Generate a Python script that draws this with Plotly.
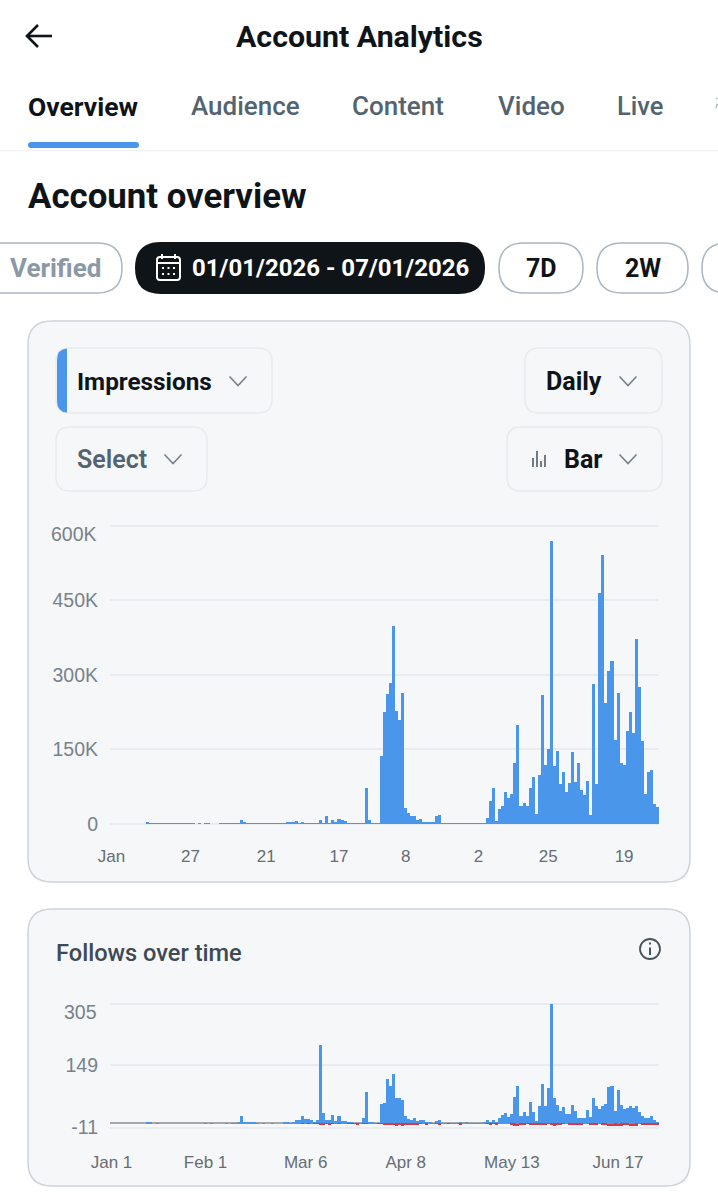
import pandas as pd
import plotly.graph_objects as go

W, H = 718, 1200

# Daily series, Jan 1 to Jun 30 2026
days = pd.date_range("2026-01-01", "2026-06-30", freq="D").strftime("%Y-%m-%d").tolist()

impressions_k = [
    0, 0, 0, 0, 0, 0, 0, 0, 0, 0, 0, 0, 5, 3, 2, 2, 2, 2, 2, 2,
    2, 2, 2, 2, 1.5, 1.5, 1, 1, 0, 1, 0, 1, 1, 0, 0, 0, 1, 1, 1, 1,
    1, 1.5, 3, 8, 4, 2, 1.5, 1, 1, 1, 1, 1, 1, 1, 1, 1, 1, 1.5, 4, 4,
    4, 6, 3, 4, 3, 2, 2, 1.5, 2, 9, 2, 17, 3, 8, 4, 11, 8, 6, 3, 2,
    1.5, 1.5, 1.5, 2, 73, 8, 3, 2, 2, 137, 226, 263, 285, 399, 228, 210, 264, 33, 23, 17,
    17, 9, 10, 5, 5, 5, 5, 16, 19, 2.5, 1.5, 1.5, 1.5, 1.5, 1.5, 2.5, 1.5, 2, 1.5, 1.5,
    1.5, 1.5, 2, 3, 13, 47, 73, 7, 31, 37, 65, 53, 60, 123, 200, 36, 42, 36, 74, 95,
    21, 100, 260, 119, 152, 569, 117, 148, 81, 105, 65, 84, 146, 86, 123, 68, 58, 88, 19, 283,
    82, 466, 542, 243, 309, 328, 169, 265, 124, 119, 188, 225, 184, 373, 277, 167, 60, 105, 110, 41,
    34,
]
impressions = [v * 1000 for v in impressions_k]

follows_gained = [
    0, 0, 0, 0, 0, 0, 0, 0, 0, 0, 0, 0, 2, 2, 0, 1, 0, 0, 0, 0,
    0, 0, 0, 0, 0, 0, 0, 0, 0, 0, 0, 1, 0, 1, 0, 0, 0, 0, 1, 0,
    1, 1, 2, 20, 5, 4, 5, 4, 1, 0, 1, 0, 0, 1, 0, 0, 0, 2, 2, 1,
    3, 8, 8, 19, 12, 11, 10, 4, 9, 201, 27, 10, 8, 22, 6, 19, 7, 6, 5, 2,
    1, 1, 1, 13, 81, 5, 3, 1, 0, 49, 53, 113, 95, 127, 65, 65, 61, 20, 12, 9,
    14, 7, 9, 8, 3, 5, 1, 6, 10, 1, 1, 1, 1, 1, 1, 4, 1, 3, 1, 1,
    1, 1, 1, 2, 8, 3, 10, 2, 13, 23, 27, 17, 24, 68, 95, 19, 29, 20, 56, 29,
    7, 45, 101, 44, 90, 306, 64, 47, 32, 42, 25, 25, 48, 31, 14, 13, 13, 34, 17, 65,
    44, 36, 44, 49, 93, 95, 31, 85, 48, 37, 41, 46, 40, 46, 30, 19, 14, 14, 20, 8,
    5,
]

follows_lost = [
    0, 0, 0, 0, 0, 0, 0, 0, 0, 0, 0, 0, 0, 0, 0, 0, 0, 0, 0, 0,
    0, 0, 0, 0, 0, 0, 0, 0, 0, 0, 0, 0, 0, 0, 0, 0, 0, 0, 0, 0,
    0, 0, 0, 0, 0, 0, 0, 0, 0, 0, 0, 0, 0, 0, 0, 0, 0, 0, 0, 0,
    0, 0, 0, -1, 0, -1, 0, -1, -1, -3, -3, -1, -2, -1, 0, -1, 0, 0, -1, -1,
    -1, -2, 0, -1, -1, 0, 0, 0, -1, -1, -2, -3, -3, -4, -5, -3, -5, -2, -3, -2,
    -2, -2, -1, 0, -2, 0, 0, -1, -2, 0, 0, -1, 0, 0, 0, -4, 0, 0, 0, 0,
    0, 0, 0, 0, -1, -2, -1, -2, 0, 0, 0, 0, -2, -5, -6, -4, -3, -1, -2, -2,
    -2, -3, -2, -4, -1, -4, -5, -4, -2, -1, 0, -4, -3, -2, -3, -2, 0, 0, -2, -3,
    -2, 0, -2, -3, -6, -7, -5, -6, -5, -4, -4, -6, -7, -5, 0, -2, -3, -2, -3, -2,
    -3,
]

impression_ticks = ["2026-01-01", "2026-01-27", "2026-02-21", "2026-03-17", "2026-04-08", "2026-05-02", "2026-05-25", "2026-06-19"]
impression_tick_text = ["Jan", "27", "21", "17", "8", "2", "25", "19"]
impression_y_ticks = [0, 150000, 300000, 450000]
impression_y_text = ["0", "150K", "300K", "450K"]

follow_ticks = ["2026-01-01", "2026-02-01", "2026-03-06", "2026-04-08", "2026-05-13", "2026-06-17"]
follow_tick_text = ["Jan 1", "Feb 1", "Mar 6", "Apr 8", "May 13", "Jun 17"]
follow_y_ticks = [-11, 149]
follow_y_text = ["-11", "149"]

BLUE = "#4a96ea"
RED = "#e2343c"
INK = "#0f1419"
SLATE = "#536471"
UI_FONT = "Roboto"
AXIS_FONT = "Liberation Sans"
X_RANGE = ["2025-12-31 12:00", "2026-06-30 12:00"]


def px(x):
    return x / W


def py(y):
    return 1 - y / H


def rounded(x0, y0, x1, y1, r):
    """SVG path of a rounded rectangle, in paper coordinates."""
    p = lambda x, y: f"{px(x):.5f},{py(y):.5f}"
    return (
        f"M{p(x0 + r, y0)} L{p(x1 - r, y0)} Q{p(x1, y0)} {p(x1, y0 + r)} "
        f"L{p(x1, y1 - r)} Q{p(x1, y1)} {p(x1 - r, y1)} L{p(x0 + r, y1)} "
        f"Q{p(x0, y1)} {p(x0, y1 - r)} L{p(x0, y0 + r)} Q{p(x0, y0)} {p(x0 + r, y0)} Z"
    )


shapes = []
annotations = []


def box(x0, y0, x1, y1, r, fill="rgba(0,0,0,0)", line="rgba(0,0,0,0)", lw=1.5):
    shapes.append(dict(type="path", xref="paper", yref="paper", path=rounded(x0, y0, x1, y1, r),
                       fillcolor=fill, line=dict(color=line, width=lw), layer="below"))


def stroke(points, color=INK, lw=2.0):
    d = "M" + " L".join(f"{px(x):.5f},{py(y):.5f}" for x, y in points)
    shapes.append(dict(type="path", xref="paper", yref="paper", path=d,
                       line=dict(color=color, width=lw), layer="above"))


def chevron(cx, cy, color="#76818b"):
    stroke([(cx - 8.5, cy - 4.5), (cx, cy + 4.5), (cx + 8.5, cy - 4.5)], color, 1.6)


def text(x, y, s, size, color=INK, weight=400, anchor="left", font=UI_FONT):
    annotations.append(dict(x=px(x), y=py(y), xref="paper", yref="paper", text=s, showarrow=False,
                            xanchor=anchor, yanchor="middle", borderpad=0, borderwidth=0,
                            font=dict(family=font, size=size, color=color, weight=weight)))


# Header
stroke([(27, 36), (52, 36)], INK, 2.6)
stroke([(38, 25), (27, 36), (38, 47)], INK, 2.6)
text(359, 36, "Account Analytics", 30.3, INK, 700, "center")

# Tabs
text(28, 106, "Overview", 26.5, INK, 700)
text(191, 106, "Audience", 26, SLATE, 500)
text(352, 106, "Content", 26, SLATE, 500)
text(498, 106, "Video", 26, SLATE, 500)
text(617, 106, "Live", 25.5, SLATE, 500)
# Sliver of the next tab where the strip runs off the screen
stroke([(716, 99), (717.5, 98)], "#aeb7bf", 1.5)
stroke([(716, 108), (717.5, 104)], "#aeb7bf", 1.5)
box(28, 142, 139, 148, 3, fill=BLUE)
shapes.append(dict(type="line", xref="paper", yref="paper", x0=0, x1=1, y0=py(150.5), y1=py(150.5),
                   line=dict(color="#eff1f3", width=1.5), layer="below"))

text(28, 196, "Account overview", 34.8, INK, 700)

# Filter pills
box(-30, 243, 122, 293, 25, line="#aab6c1")
text(10, 268, "Verified", 26, "#8b98a5", 700)
box(135, 242, 485, 294, 26, fill=INK)
text(192, 268, "01/01/2026 - 07/01/2026", 24, "#ffffff", 700)
box(157, 257, 180, 280, 3, line="#ffffff", lw=2)
stroke([(157, 263), (180, 263)], "#ffffff", 2)
stroke([(162, 254), (162, 259)], "#ffffff", 2)
stroke([(175, 254), (175, 259)], "#ffffff", 2)
for cx in (163, 168.5, 174):
    for cy in (268, 274):
        box(cx - 1, cy - 1, cx + 1, cy + 1, 0.3, fill="#ffffff", lw=0)
box(499, 243, 583, 293, 25, line="#aab6c1")
text(541, 268, "7D", 25, INK, 700, "center")
box(597, 243, 688, 293, 25, line="#aab6c1")
text(642.5, 268, "2W", 25, INK, 700, "center")
box(702, 243, 790, 293, 25, line="#aab6c1")

# Cards
CARD = "#f6f7f8"
box(28, 321, 690, 882, 24, fill=CARD, line="#ccd3da")
box(28, 909, 690, 1186, 24, fill=CARD, line="#ccd3da")

# Dropdown controls of the first card
CTRL = "#e8ebee"
box(56, 348, 272, 413, 14, line=CTRL)
shapes.append(dict(type="path", xref="paper", yref="paper", fillcolor=BLUE, line=dict(width=0), layer="below",
                   path=(f"M{px(67)},{py(348.5)} Q{px(57)},{py(349)} {px(57)},{py(360)} "
                         f"L{px(57)},{py(401)} Q{px(57)},{py(412)} {px(67)},{py(412.5)} Z")))
text(77, 381, "Impressions", 24.3, INK, 700)
chevron(238, 381)
box(525, 348, 662, 413, 14, line=CTRL)
text(546, 381, "Daily", 25, INK, 700)
chevron(628, 381)
box(56, 427, 207, 491, 14, line=CTRL)
text(77, 459, "Select", 25, SLATE, 600)
chevron(173, 459)
box(507, 427, 662, 491, 14, line=CTRL)
for bx, top in ((533, 458), (537, 451), (541, 461), (545, 455)):
    stroke([(bx, top), (bx, 467)], "#3b4650", 1.4)
text(564, 459, "Bar", 25, INK, 700)
chevron(628, 459)

# Second card title and info icon
text(56, 953, "Follows over time", 23.6, "#3d4a55", 500)
shapes.append(dict(type="circle", xref="paper", yref="paper", x0=px(640), x1=px(660), y0=py(939), y1=py(959),
                   line=dict(color="#46525c", width=1.8), layer="above"))
stroke([(650, 947.5), (650, 955)], "#46525c", 2)
stroke([(650, 942.5), (650, 944.5)], "#46525c", 2)

# Top tick labels sit just under their gridlines
annotations.append(dict(x=px(99), y=600000, xref="paper", yref="y", yshift=-8, text="600K", showarrow=False,
                        xanchor="right", yanchor="middle",
                        font=dict(family=AXIS_FONT, size=19.5, color="#77828c")))
annotations.append(dict(x=px(99), y=305, xref="paper", yref="y2", yshift=-8, text="305", showarrow=False,
                        xanchor="right", yanchor="middle",
                        font=dict(family=AXIS_FONT, size=19.5, color="#77828c")))

fig = go.Figure()
fig.add_bar(x=days, y=impressions, marker=dict(color=BLUE, line_width=0),
            xaxis="x", yaxis="y", name="Impressions")
fig.add_bar(x=days, y=follows_gained, marker=dict(color=BLUE, line_width=0),
            xaxis="x2", yaxis="y2", name="Follows")
fig.add_bar(x=days, y=follows_lost, marker=dict(color=RED, line_width=0),
            xaxis="x2", yaxis="y2", name="Unfollows")

GRID = "#e9ecef"
x_common = dict(type="date", range=X_RANGE, showgrid=False, zeroline=False, showline=False, ticks="",
                automargin=False, tickmode="array", ticklabelstandoff=20, tickangle=0,
                tickfont=dict(family=AXIS_FONT, size=17, color="#666d73"))
y_common = dict(showgrid=True, gridcolor=GRID, gridwidth=1.5, showline=False, ticks="", tickmode="array",
                automargin=False, ticklabelstandoff=11, tickfont=dict(family=AXIS_FONT, size=19.5, color="#77828c"))

# Ranges run a little past the outer ticks so those gridlines stay drawn
fig.update_layout(
    template="none",
    width=W, height=H, autosize=False, margin=dict(l=0, r=0, t=0, b=0, pad=0),
    paper_bgcolor="#ffffff", plot_bgcolor="rgba(0,0,0,0)", showlegend=False,
    barmode="relative", bargap=0.0,
    shapes=shapes, annotations=annotations,
    xaxis=dict(domain=[px(110), px(659)], anchor="y", tickvals=impression_ticks, ticktext=impression_tick_text, **x_common),
    yaxis=dict(domain=[py(824), py(523.7)], anchor="x", range=[0, 604000], zeroline=True,
               zerolinecolor=GRID, zerolinewidth=1.5,
               tickvals=impression_y_ticks + [600000], ticktext=impression_y_text + [""], **y_common),
    xaxis2=dict(domain=[px(110), px(659)], anchor="y2", tickvals=follow_ticks, ticktext=follow_tick_text, **x_common),
    yaxis2=dict(domain=[py(1129.6), py(1001.7)], anchor="x2", range=[-16.1, 310.1], zeroline=True,
                zerolinecolor="#a3a9af", zerolinewidth=1.5,
                tickvals=follow_y_ticks + [305], ticktext=follow_y_text + [""], **y_common),
)

fig.write_html("out.html")
